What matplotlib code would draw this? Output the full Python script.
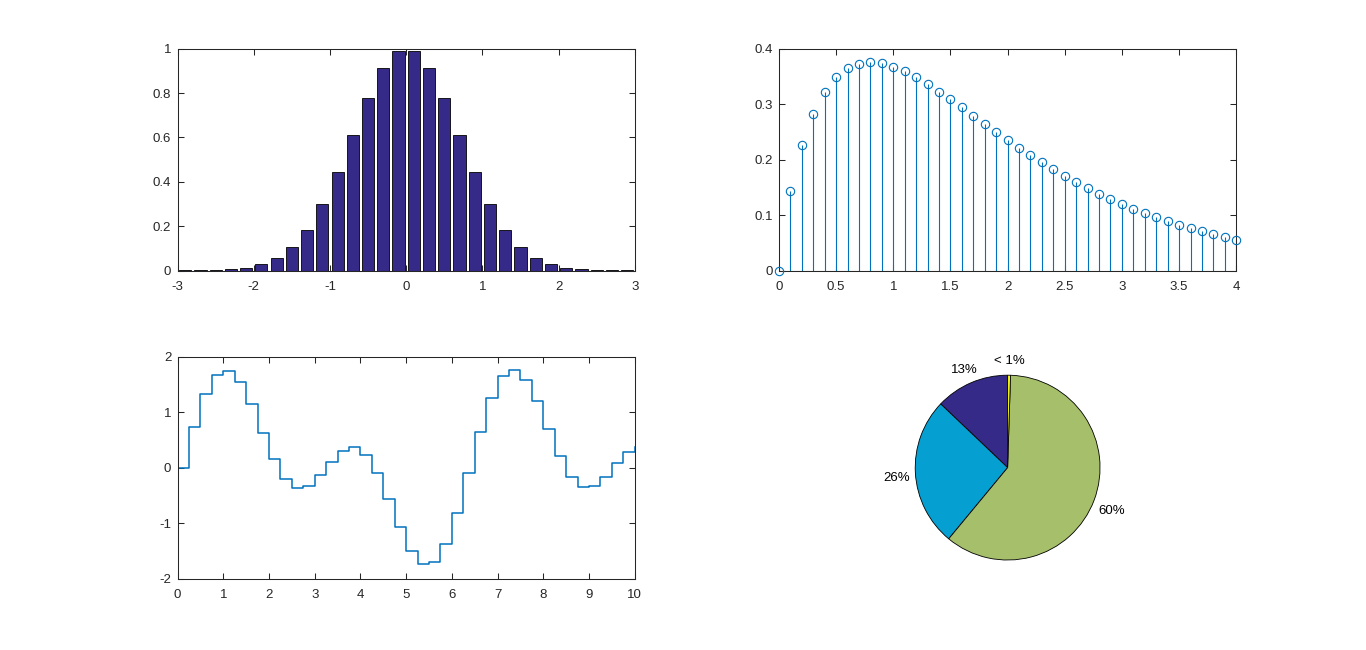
import matplotlib
matplotlib.use('Agg')
import matplotlib.pyplot as plt
from matplotlib.ticker import FuncFormatter, MultipleLocator
import numpy as np

# ---------------- data ----------------
bar_x = [-2.9, -2.7, -2.5, -2.3, -2.1, -1.9, -1.7, -1.5, -1.3, -1.1, -0.9, -0.7, -0.5, -0.3, -0.1,
         0.1, 0.3, 0.5, 0.7, 0.9, 1.1, 1.3, 1.5, 1.7, 1.9, 2.1, 2.3, 2.5, 2.7, 2.9]
bar_y = [0.0002, 0.0007, 0.0019, 0.0050, 0.0122, 0.0273, 0.0556, 0.1054, 0.1845, 0.2982,
         0.4449, 0.6126, 0.7788, 0.9139, 0.9900, 0.9900, 0.9139, 0.7788, 0.6126, 0.4449,
         0.2982, 0.1845, 0.1054, 0.0556, 0.0273, 0.0122, 0.0050, 0.0019, 0.0007, 0.0002]

stem_x = [0.0, 0.1, 0.2, 0.3, 0.4, 0.5, 0.6, 0.7, 0.8, 0.9, 1.0, 1.1, 1.2, 1.3, 1.4, 1.5, 1.6,
          1.7, 1.8, 1.9, 2.0, 2.1, 2.2, 2.3, 2.4, 2.5, 2.6, 2.7, 2.8, 2.9, 3.0, 3.1, 3.2, 3.3,
          3.4, 3.5, 3.6, 3.7, 3.8, 3.9, 4.0]
stem_y = [0.0, 0.1434, 0.2259, 0.2828, 0.3221, 0.3483, 0.3647, 0.3733, 0.3759, 0.3737, 0.3679,
          0.3593, 0.3485, 0.3361, 0.3228, 0.3086, 0.2941, 0.2793, 0.2646, 0.2500, 0.2356,
          0.2217, 0.2082, 0.1952, 0.1828, 0.1709, 0.1595, 0.1488, 0.1386, 0.1290, 0.1199,
          0.1113, 0.1034, 0.0959, 0.0889, 0.0823, 0.0762, 0.0704, 0.0651, 0.0601, 0.0555]

stairs_x = [0.0, 0.25, 0.5, 0.75, 1.0, 1.25, 1.5, 1.75, 2.0, 2.25, 2.5, 2.75, 3.0, 3.25, 3.5,
            3.75, 4.0, 4.25, 4.5, 4.75, 5.0, 5.25, 5.5, 5.75, 6.0, 6.25, 6.5, 6.75, 7.0, 7.25,
            7.5, 7.75, 8.0, 8.25, 8.5, 8.75, 9.0, 9.25, 9.5, 9.75, 10.0]
stairs_y = [0.0, 0.7268, 1.3209, 1.6791, 1.7508, 1.5475, 1.1386, 0.6332, 0.1525, -0.1994,
            -0.3604, -0.3238, -0.1383, 0.1069, 0.3062, 0.3664, 0.2326, -0.0965, -0.5654,
            -1.0745, -1.5029, -1.7386, -1.7055, -1.3838, -0.8160, -0.0995, 0.6353, 1.2538,
            1.6476, 1.7577, 1.5883, 1.2011, 0.7015, 0.2110, -0.1629, -0.3538, -0.3389,
            -0.1640, 0.0747, 0.2860, 0.3689]

pie_vals = [12.9, 26.1, 60.5, 0.5]
pie_labels = ['13%', '26%', '60%', '< 1%']
pie_colors = ['#352A87', '#069FD1', '#A5BF6B', '#F9FB0E']

# ---------------- style ----------------
plt.rcParams['font.family'] = ['Liberation Sans', 'DejaVu Sans']
plt.rcParams['font.size'] = 9.5
TXT = '#262626'
BLUE = '#0072BD'

fig = plt.figure(figsize=(13.66, 6.5), dpi=100)
fig.patch.set_facecolor('white')

fmt = FuncFormatter(lambda v, p: ('%g' % round(v, 6)))


def style(ax):
    for s in ax.spines.values():
        s.set_color(TXT)
        s.set_linewidth(0.75)
    ax.tick_params(direction='in', top=True, right=True, length=4, width=0.75,
                   colors=TXT, labelsize=9.5)
    ax.tick_params(axis='x', pad=7.5)
    ax.tick_params(axis='y', pad=4.5)
    ax.xaxis.set_major_formatter(fmt)
    ax.yaxis.set_major_formatter(fmt)


# bar
ax1 = fig.add_axes([0.13, 0.5838, 0.3347, 0.3412])
ax1.bar(bar_x, bar_y, width=0.16, color='#352A87', edgecolor='black', linewidth=0.6)
ax1.set_xlim(-3, 3)
ax1.set_ylim(0, 1)
ax1.xaxis.set_major_locator(MultipleLocator(1))
ax1.yaxis.set_major_locator(MultipleLocator(0.2))
style(ax1)

# stem
ax2 = fig.add_axes([0.5703, 0.5838, 0.3347, 0.3412])
ml, sl, bl = ax2.stem(stem_x, stem_y, basefmt='k-')
plt.setp(sl, color=BLUE, linewidth=0.8)
plt.setp(ml, marker='o', markersize=6, markerfacecolor='none', markeredgecolor=BLUE,
         markeredgewidth=0.8, clip_on=False, zorder=5)
plt.setp(bl, linewidth=0.75, color=TXT)
ax2.set_xlim(0, 4)
ax2.set_ylim(0, 0.4)
ax2.xaxis.set_major_locator(MultipleLocator(0.5))
ax2.yaxis.set_major_locator(MultipleLocator(0.1))
style(ax2)

# stairs
ax3 = fig.add_axes([0.13, 0.11, 0.3347, 0.3412])
ax3.step(stairs_x, stairs_y, where='post', color=BLUE, linewidth=1.1)
ax3.set_xlim(0, 10)
ax3.set_ylim(-2, 2)
ax3.xaxis.set_major_locator(MultipleLocator(1))
ax3.yaxis.set_major_locator(MultipleLocator(1))
style(ax3)

# pie
ax4 = fig.add_axes([0.5703, 0.11, 0.3347, 0.3412])
wedges, _ = ax4.pie(pie_vals, colors=pie_colors, startangle=90, counterclock=True,
                    radius=1, wedgeprops=dict(edgecolor='black', linewidth=0.6))
for w, lab in zip(wedges, pie_labels):
    th = np.deg2rad((w.theta1 + w.theta2) / 2)
    ax4.text(1.2 * np.cos(th), 1.2 * np.sin(th) - 0.03, lab, ha='center',
             va='center_baseline', color='black', fontsize=9.5)
ax4.set_xlim(-1.2, 1.2)
ax4.set_ylim(-1.2, 1.2)
ax4.set_aspect('equal', adjustable='box')
ax4.axis('off')

fig.savefig('out.png', dpi=100, facecolor='white')
